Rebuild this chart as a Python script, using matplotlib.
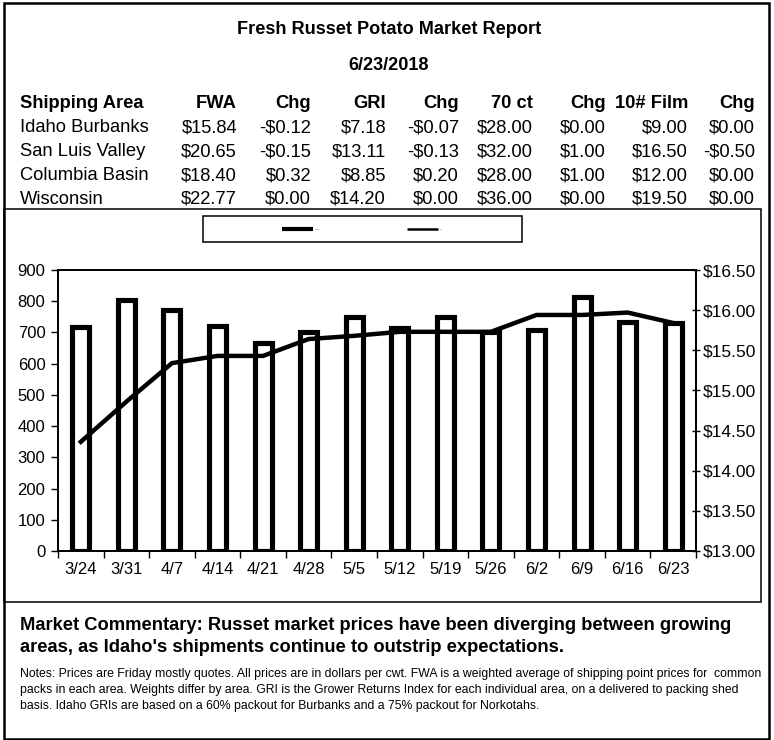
import matplotlib
matplotlib.use("Agg")
import matplotlib.pyplot as plt
from matplotlib.lines import Line2D
from matplotlib.patches import Rectangle
import numpy as np

plt.rcParams['font.family'] = ['Liberation Sans', 'DejaVu Sans']

# ---- data ----
weeks = ["3/24", "3/31", "4/7", "4/14", "4/21", "4/28", "5/5", "5/12",
         "5/19", "5/26", "6/2", "6/9", "6/16", "6/23"]
shipments = [718, 805, 772, 720, 665, 702, 750, 713, 750, 702, 708, 815, 734, 731]
fwa_price = [14.36, 14.86, 15.34, 15.43, 15.43, 15.64, 15.68, 15.73, 15.73,
             15.73, 15.94, 15.94, 15.97, 15.84]

left_ticks = [0, 100, 200, 300, 400, 500, 600, 700, 800, 900]
right_ticks = [13.0, 13.5, 14.0, 14.5, 15.0, 15.5, 16.0, 16.5]

title = "Fresh Russet Potato Market Report"
report_date = "6/23/2018"
table_header = ["Shipping Area", "FWA", "Chg", "GRI", "Chg", "70 ct", "Chg", "10# Film", "Chg"]
table_rows = [
    ["Idaho Burbanks", "$15.84", "-$0.12", "$7.18", "-$0.07", "$28.00", "$0.00", "$9.00", "$0.00"],
    ["San Luis Valley", "$20.65", "-$0.15", "$13.11", "-$0.13", "$32.00", "$1.00", "$16.50", "-$0.50"],
    ["Columbia Basin", "$18.40", "$0.32", "$8.85", "$0.20", "$28.00", "$1.00", "$12.00", "$0.00"],
    ["Wisconsin", "$22.77", "$0.00", "$14.20", "$0.00", "$36.00", "$0.00", "$19.50", "$0.00"],
]
legend_labels = ["----", "--"]
commentary = ["Market Commentary: Russet market prices have been diverging between growing",
              "areas, as Idaho's shipments continue to outstrip expectations."]
notes = ["Notes: Prices are Friday mostly quotes. All prices are in dollars per cwt. FWA is a weighted average of shipping point prices for  common",
         "packs in each area. Weights differ by area. GRI is the Grower Returns Index for each individual area, on a delivered to packing shed",
         "basis. Idaho GRIs are based on a 60% packout for Burbanks and a 75% packout for Norkotahs."]

# ---- figure ----
W, H = 774, 740
fig = plt.figure(figsize=(W / 100, H / 100), dpi=100)

def fx(px):
    return px / W

def fy(py):
    return 1 - py / H

# frames
fig.add_artist(Rectangle((fx(4), fy(739)), fx(769) - fx(4), fy(3) - fy(739),
                         transform=fig.transFigure, fill=False, edgecolor='black', linewidth=1.8))
fig.add_artist(Rectangle((fx(4), fy(602)), fx(761) - fx(4), fy(209) - fy(602),
                         transform=fig.transFigure, fill=False, edgecolor='black', linewidth=1.1))

# header
fig.text(fx(389), fy(30), title, ha='center', va='center', fontsize=13.1, fontweight='bold')
fig.text(fx(389), fy(65), report_date, ha='center', va='center', fontsize=13.1, fontweight='bold')

col_right = [237, 311, 386, 459, 533, 606, 688, 755]
row_y = [104, 128, 152, 176, 199]
TS = 13.2
for i, h in enumerate(table_header):
    if i == 0:
        fig.text(fx(20), fy(row_y[0]), h, ha='left', va='center', fontsize=TS, fontweight='bold')
    else:
        fig.text(fx(col_right[i - 1]), fy(row_y[0]), h, ha='right', va='center', fontsize=TS, fontweight='bold')
for r, row in enumerate(table_rows):
    for i, v in enumerate(row):
        if i == 0:
            fig.text(fx(20), fy(row_y[r + 1]), v, ha='left', va='center', fontsize=TS)
        else:
            fig.text(fx(col_right[i - 1]), fy(row_y[r + 1]), v, ha='right', va='center', fontsize=TS)

# legend box (manual)
fig.add_artist(Rectangle((fx(203), fy(242)), fx(522) - fx(203), fy(216) - fy(242),
                         transform=fig.transFigure, fill=False, edgecolor='black', linewidth=1.1))
fig.add_artist(Line2D([fx(282), fx(313)], [fy(229), fy(229)], transform=fig.transFigure,
                      color='black', linewidth=3.0, solid_capstyle='butt'))
fig.text(fx(315), fy(229), legend_labels[0], ha='left', va='center', fontsize=3)
fig.add_artist(Line2D([fx(407), fx(438)], [fy(229), fy(229)], transform=fig.transFigure,
                      color='black', linewidth=1.8, solid_capstyle='butt'))
fig.text(fx(440), fy(229), legend_labels[1], ha='left', va='center', fontsize=3)

# chart
ax = fig.add_axes([fx(58), fy(551), fx(696) - fx(58), fy(270) - fy(551)])
x = np.arange(len(weeks))
ax.bar(x, shipments, width=0.37, fill=False, edgecolor='black', linewidth=3.7, zorder=2)
ax.set_xlim(-0.5, len(weeks) - 0.5)
ax.set_ylim(0, 900)
ax.set_yticks(left_ticks)
ax.set_yticklabels([str(t) for t in left_ticks])
ax.set_xticks(x)
ax.set_xticklabels(weeks)
ax.set_xticks(np.arange(len(weeks) + 1) - 0.5, minor=True)
ax.tick_params(axis='x', which='major', length=0, pad=8, labelsize=12)
ax.tick_params(axis='x', which='minor', length=5, width=1, direction='out')
ax.tick_params(axis='y', which='major', length=5, width=1, direction='out', pad=4, labelsize=12)
for s in ax.spines.values():
    s.set_linewidth(1.3)

ax2 = ax.twinx()
ax2.plot(x, fwa_price, color='black', linewidth=3.2, solid_joinstyle='round', zorder=3)
ax2.set_ylim(13.0, 16.5)
ax2.set_yticks(right_ticks)
ax2.set_yticklabels(["${:.2f}".format(t) for t in right_ticks])
ax2.tick_params(axis='y', length=6, width=1, direction='inout', pad=2, labelsize=12.5)
for s in ax2.spines.values():
    s.set_linewidth(1.3)

# commentary
fig.text(fx(20), fy(625), commentary[0], ha='left', va='center', fontsize=13.2, fontweight='bold')
fig.text(fx(20), fy(648), commentary[1], ha='left', va='center', fontsize=13.2, fontweight='bold')
for i, line in enumerate(notes):
    fig.text(fx(20), fy(674 + 16 * i), line, ha='left', va='center', fontsize=8.8)

fig.savefig("out.png", dpi=100)
